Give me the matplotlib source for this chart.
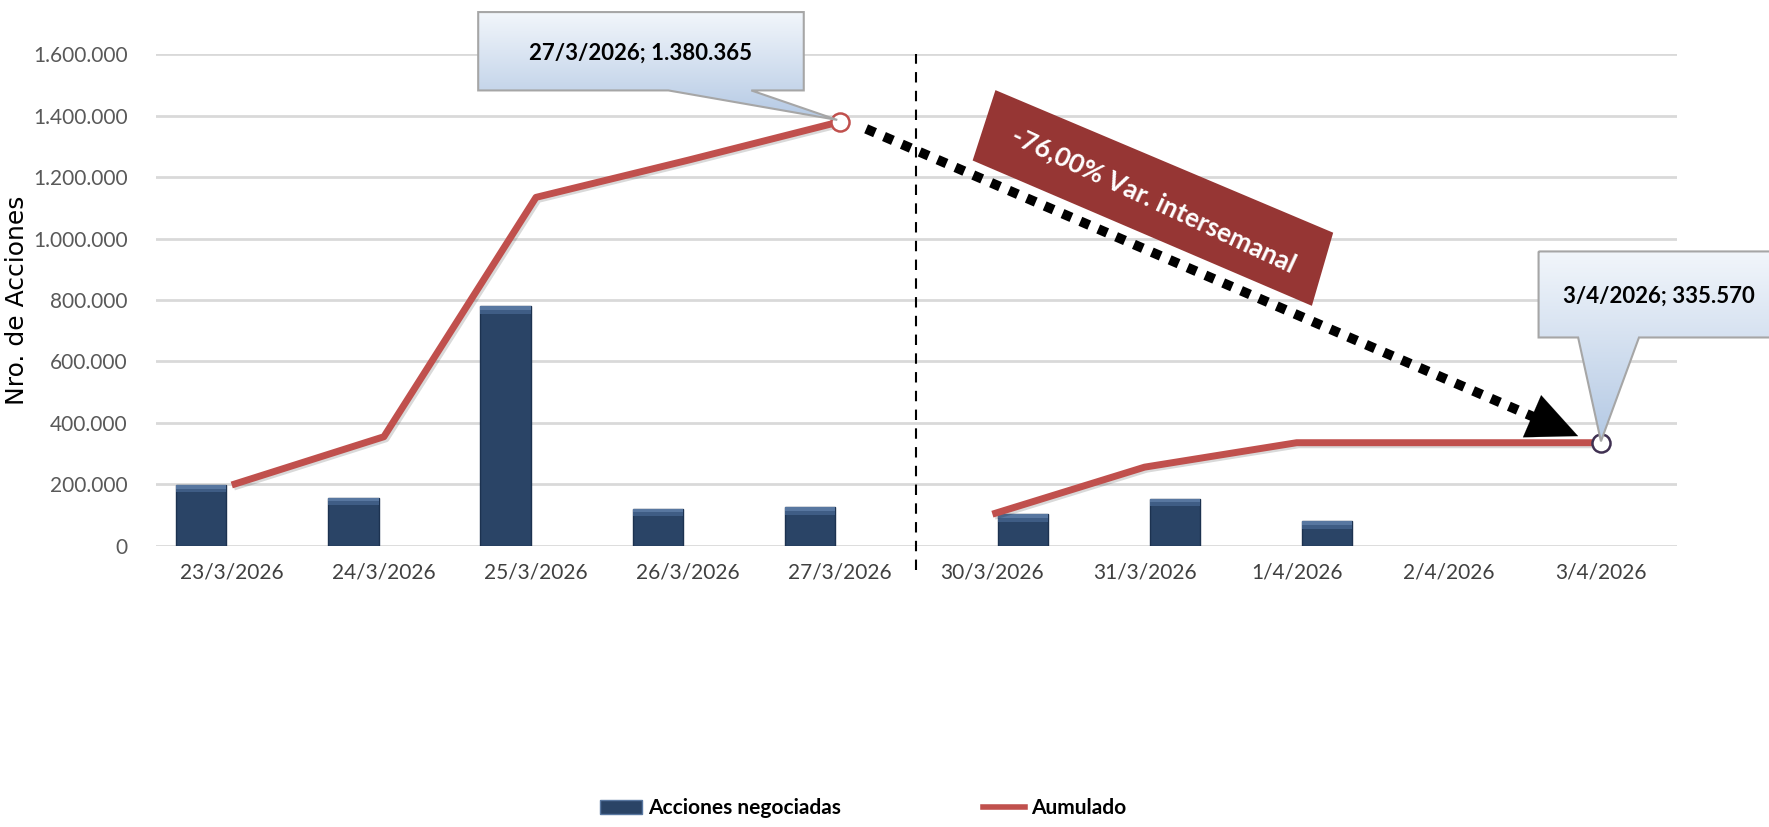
import numpy as np
import matplotlib
matplotlib.use("Agg")
import matplotlib.pyplot as plt
from matplotlib.patches import Polygon
from matplotlib.lines import Line2D
from matplotlib.patches import Patch
import matplotlib.patheffects as pe

fechas = ["23/3/2026", "24/3/2026", "25/3/2026", "26/3/2026", "27/3/2026",
          "30/3/2026", "31/3/2026", "1/4/2026", "2/4/2026", "3/4/2026"]
acciones = [198000, 157000, 779000, 121000, 125365,
            103000, 153000, 79570, 0, 0]
acumulado_sem1 = [198000, 355000, 1134000, 1255000, 1380365]
acumulado_sem2 = [103000, 256000, 335570, 335570, 335570]
yticks = [0, 200000, 400000, 600000, 800000, 1000000, 1200000, 1400000, 1600000]
var_texto = "-76,00% Var. intersemanal"

narrow = ["Lato", "DejaVu Sans"]
navy = "#2a4466"
red = "#c0504d"

fig = plt.figure(figsize=(17.69, 8.27), dpi=100)
ax = fig.add_axes([0.088, 0.340, 0.860, 0.5945])

x = np.arange(len(fechas))
x1 = x[:5]
x2 = x[5:]

# bars, shifted like the original clustered layout
offs = np.where(x < 5, -0.2, 0.2)
vals = np.array(acciones)
mask = vals > 0
ax.bar(x[mask] + offs[mask], vals[mask], width=0.33, color=navy,
       edgecolor="#1c3250", linewidth=1, zorder=3)
bevel = 24000
ax.bar(x[mask] + offs[mask], bevel, bottom=vals[mask] - bevel, width=0.33,
       color="#5877a0", linewidth=0, zorder=4)
ax.bar(x[mask] + offs[mask], bevel / 2, bottom=vals[mask] - bevel, width=0.33,
       color="#3f5d85", linewidth=0, zorder=4)

shadow = [pe.SimpleLineShadow(offset=(1.5, -1.5), alpha=0.15), pe.Normal()]
ax.plot(x1, acumulado_sem1, color=red, lw=5, zorder=5,
        solid_capstyle="butt", path_effects=shadow)
ax.plot(x2, acumulado_sem2, color=red, lw=5, zorder=5,
        solid_capstyle="butt", path_effects=shadow)

ax.plot([x1[-1]], [acumulado_sem1[-1]], "o", ms=13, mfc="white", mec=red,
        mew=1.8, zorder=8)
ax.plot([x2[-1]], [acumulado_sem2[-1]], "o", ms=13, mfc="white", mec="#403152",
        mew=1.8, zorder=8)

# week separator
ax.plot([4.5, 4.5], [-80000, 1600000], color="black", lw=1.5,
        ls=(0, (5, 4)), clip_on=False, zorder=6)

ax.set_xlim(-0.5, 9.5)
ax.set_ylim(0, 1600000)
ax.set_yticks(yticks)
ax.set_yticklabels([f"{v:,.0f}".replace(",", ".") for v in yticks],
                   family=narrow, fontsize=15, color="#595959")
ax.set_xticks(x)
ax.set_xticklabels(fechas, family=narrow, fontsize=15, color="#404040")
ax.tick_params(length=0, axis="both")
ax.tick_params(axis="x", pad=12)
ax.tick_params(axis="y", pad=20)
ax.grid(axis="y", color="#d9d9d9", lw=2, zorder=0)
ax.set_axisbelow(True)
for s in ax.spines.values():
    s.set_visible(False)
ax.set_ylabel("Nro. de Acciones", fontsize=18, family="DejaVu Sans")
ax.yaxis.set_label_coords(-0.083, 0.5)


def callout(pts, txt, tx, ty):
    poly = Polygon(pts, closed=True, facecolor="none", edgecolor="#a6a6a6",
                   lw=1.5, clip_on=False, zorder=9)
    ax.add_patch(poly)
    xs = [p[0] for p in pts]
    ys = [p[1] for p in pts]
    grad = np.linspace(0, 1, 256).reshape(-1, 1)
    im = ax.imshow(grad, cmap=matplotlib.colors.LinearSegmentedColormap.from_list(
        "cb", ["#f2f6fb", "#b4c9e4"]), aspect="auto",
        extent=[min(xs), max(xs), min(ys), max(ys)], origin="upper", zorder=8.5)
    im.set_clip_box(fig.bbox)
    im.set_clip_path(poly)
    ax.text(tx, ty, txt, ha="center", va="center", fontsize=16,
            fontweight="bold", family=narrow, zorder=10, clip_on=False)


callout([(1.62, 1737000), (3.76, 1737000), (3.76, 1482000), (3.415, 1482000),
         (3.98, 1386000), (2.87, 1482000), (1.62, 1482000)],
        "27/3/2026; 1.380.365", 2.69, 1603000)
callout([(8.59, 958000), (10.6, 958000), (10.6, 678000), (9.25, 678000),
         (9.0, 340000), (8.85, 678000), (8.59, 678000)],
        "3/4/2026; 335.570", 9.38, 812000)

# red banner with weekly variation
banner = Polygon([(5.02, 1483000), (7.24, 1019000), (7.10, 781000),
                  (4.87, 1254000)], closed=True, facecolor="#963634",
                 edgecolor="none", zorder=6)
ax.add_patch(banner)
ax.text(6.06, 1125000, var_texto, rotation=-25, ha="center", va="center",
        color="white", fontsize=19, family=narrow, fontweight="bold",
        zorder=7, rotation_mode="anchor")

# dotted arrow
start = np.array([4.17, 1357000.0])
end = np.array([8.85, 357000.0])
mid = start + 0.94 * (end - start)
ax.plot([start[0], mid[0]], [start[1], mid[1]], color="black", lw=7,
        ls=(0, (1, 1)), zorder=7)
ax.annotate("", xy=end, xytext=mid,
            arrowprops=dict(arrowstyle="-|>,head_length=1.2,head_width=0.55",
                            color="black", lw=0.1, mutation_scale=30,
                            shrinkA=0, shrinkB=0), zorder=7)

handles = [Patch(facecolor=navy, edgecolor="#5877a0"),
           Line2D([0], [0], color=red, lw=4)]
fig.legend(handles, ["Acciones negociadas", "Aumulado"], loc="lower center",
           bbox_to_anchor=(0.488, -0.012), ncol=2, frameon=False,
           columnspacing=6.8, handlelength=2.0, handletextpad=0.3,
           prop={"family": narrow, "weight": "bold", "size": 15})

fig.savefig("out.png", dpi=100)
